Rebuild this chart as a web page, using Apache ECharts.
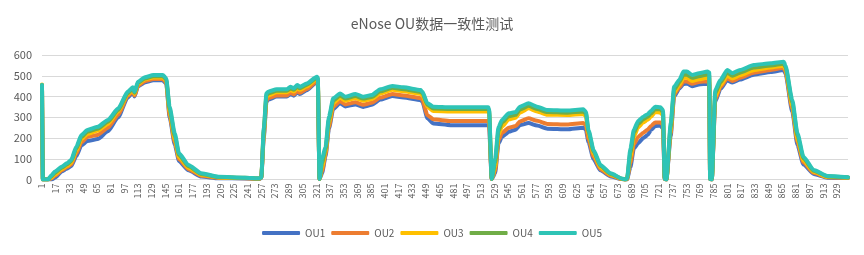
<!DOCTYPE html>
<html>
<head>
    <meta charset="UTF-8">
    <title>eNose OU数据一致性测试</title>
    <script src="https://cdn.jsdelivr.net/npm/echarts@6/dist/echarts.min.js"></script>
    <style>
        html, body { margin: 0; padding: 0; background: #fff; }
        #chart { width: 864px; height: 255px; }
    </style>
</head>
<body>
    <div id="chart"></div>

    <script>
        // 采样点总数（横轴 1..942）
        const pointCount = 942;
        const seriesNames = ['OU1', 'OU2', 'OU3', 'OU4', 'OU5'];
        const colors = ['#4472C4', '#ED7D31', '#FFC000', '#70AD47', '#2EC4B6'];

        // 读图得到的关键采样点（序号）
        const sampleAt = [
            1, 2, 8, 12, 16, 24, 30, 35, 41, 47, 54, 66, 78, 90, 101, 107, 109, 113, 121, 131, 142, 146, 150, 156, 161, 172, 187, 207, 238, 255,
            257, 260, 263, 265, 275, 287, 291, 295, 299, 302, 310, 322, 323, 325,
            328, 332, 336, 341, 349, 355, 367, 376, 386, 396, 410, 423, 443, 445, 451, 458, 478, 522, 523, 526,
            530, 534, 538, 546, 554, 559, 569, 579, 591, 614, 633, 636, 639, 645, 653, 665, 678, 682,
            684, 688, 692, 697, 703, 708, 712, 717, 723, 726, 728,
            730, 735, 739, 745, 750, 754, 760, 768, 778, 780, 781,
            783, 787, 793, 801, 807, 816, 832, 852, 867, 869, 877, 883, 890, 902, 918, 942
        ];

        const ou1 = [
            450, 0, 0, 0, 8, 38, 52, 64, 112, 165, 185, 195, 232, 300, 395, 420, 400, 448, 468, 478, 478, 462, 300, 168, 88, 44, 14, 6, 5, 3,
            8, 205, 372, 385, 400, 400, 412, 404, 420, 412, 430, 470, 465, 3,
            30, 110, 245, 340, 368, 352, 362, 350, 360, 385, 402, 395, 382, 375, 295, 270, 262, 262, 255, 2,
            30, 175, 205, 230, 240, 262, 272, 260, 245, 242, 250, 240, 180, 98, 44, 15, 2, 0,
            0, 60, 150, 175, 200, 214, 238, 258, 260, 245, 2,
            0, 210, 400, 438, 460, 462, 450, 458, 462, 458, 2,
            0, 375, 435, 478, 467, 482, 505, 518, 528, 510, 325, 165, 72, 27, 9, 7
        ];
        const ou2 = [
            452, 0, 0, 5, 18, 44, 60, 72, 125, 180, 205, 215, 250, 312, 402, 425, 405, 452, 474, 484, 484, 468, 310, 180, 98, 50, 18, 8, 6, 4,
            9, 215, 380, 392, 405, 405, 418, 410, 426, 418, 436, 474, 470, 3,
            40, 120, 255, 350, 378, 362, 372, 360, 370, 395, 412, 405, 392, 385, 310, 290, 282, 282, 275, 2,
            40, 190, 225, 250, 258, 280, 295, 283, 268, 265, 272, 262, 195, 110, 50, 19, 2, 0,
            1, 80, 170, 205, 225, 240, 258, 275, 275, 265, 2,
            0, 225, 410, 445, 472, 472, 462, 470, 474, 470, 2,
            0, 385, 445, 488, 475, 490, 515, 528, 538, 520, 340, 180, 82, 32, 11, 8
        ];
        const ou3 = [
            458, 0, 0, 10, 25, 50, 66, 80, 138, 195, 220, 235, 268, 328, 410, 432, 412, 460, 482, 492, 492, 476, 325, 195, 108, 57, 23, 10, 7, 5,
            10, 230, 395, 405, 420, 420, 432, 424, 440, 432, 448, 484, 480, 3,
            60, 135, 275, 368, 395, 380, 392, 380, 388, 415, 432, 425, 412, 405, 350, 330, 328, 328, 320, 3,
            60, 215, 255, 290, 298, 322, 343, 328, 312, 311, 316, 305, 220, 125, 58, 23, 3, 0,
            2, 110, 205, 252, 275, 288, 302, 325, 322, 310, 3,
            0, 240, 420, 455, 490, 490, 475, 483, 491, 488, 3,
            0, 400, 455, 500, 487, 502, 527, 540, 548, 530, 355, 195, 92, 37, 13, 9
        ];
        const ou4 = [
            455, 0, 0, 15, 32, 57, 72, 88, 148, 205, 230, 245, 278, 335, 415, 438, 418, 465, 487, 498, 498, 482, 338, 210, 118, 64, 27, 12, 8, 5,
            10, 240, 405, 415, 428, 428, 440, 432, 448, 440, 456, 490, 486, 3,
            80, 145, 290, 380, 405, 390, 402, 390, 398, 425, 442, 435, 422, 416, 360, 342, 340, 340, 332, 3,
            80, 235, 275, 305, 312, 338, 355, 340, 325, 322, 328, 318, 230, 135, 65, 27, 4, 0,
            3, 130, 225, 268, 290, 303, 318, 340, 338, 325, 3,
            0, 255, 432, 468, 505, 505, 490, 498, 506, 503, 3,
            0, 415, 468, 515, 500, 515, 540, 550, 558, 540, 370, 210, 102, 42, 15, 10
        ];
        const ou5 = [
            455, 0, 0, 20, 38, 62, 78, 94, 158, 214, 239, 254, 287, 343, 423, 444, 423, 471, 493, 504, 504, 488, 351, 223, 126, 70, 30, 13, 9, 6,
            10, 250, 415, 423, 435, 435, 447, 440, 455, 447, 463, 495, 490, 3,
            100, 158, 303, 391, 415, 399, 412, 399, 407, 435, 451, 444, 431, 424, 367, 351, 348, 348, 340, 3,
            100, 254, 287, 319, 325, 351, 367, 351, 335, 332, 338, 327, 239, 142, 70, 30, 5, 0,
            5, 150, 240, 282, 303, 315, 330, 351, 348, 335, 3,
            0, 271, 447, 480, 520, 520, 504, 512, 520, 516, 3,
            0, 431, 480, 528, 512, 528, 552, 560, 568, 550, 383, 223, 110, 46, 17, 11
        ];

        const yTicks = { min: 0, max: 600, interval: 100 };

        const categories = [];
        for (let i = 1; i <= pointCount; i++) categories.push(String(i));

        const allValues = [ou1, ou2, ou3, ou4, ou5];
        const font = 'Noto Sans CJK SC, sans-serif';

        const chart = echarts.init(document.getElementById('chart'));

        chart.setOption({
            animation: false,
            color: colors,
            title: {
                text: 'eNose OU数据一致性测试',
                left: 'center',
                top: 12,
                textStyle: { fontSize: 14, fontWeight: 'normal', color: '#595959', fontFamily: font }
            },
            legend: {
                bottom: 12,
                left: 'center',
                itemWidth: 38,
                itemHeight: 4,
                itemGap: 6,
                icon: 'roundRect',
                textStyle: { fontSize: 10, color: '#595959', fontFamily: font },
                data: seriesNames
            },
            grid: { left: 42, right: 16, top: 55, bottom: 75.5 },
            xAxis: {
                type: 'category',
                boundaryGap: false,
                data: categories,
                axisLine: { lineStyle: { color: '#d9d9d9' } },
                axisTick: { show: false },
                axisLabel: {
                    interval: 15,
                    rotate: 90,
                    margin: 4,
                    fontSize: 9,
                    color: '#595959',
                    fontFamily: font
                }
            },
            yAxis: {
                type: 'value',
                min: yTicks.min,
                max: yTicks.max,
                interval: yTicks.interval,
                axisLine: { show: false },
                axisTick: { show: false },
                splitLine: { lineStyle: { color: '#d9d9d9', width: 1 } },
                axisLabel: { fontSize: 11, color: '#595959', margin: 10, fontFamily: font }
            },
            series: seriesNames.map((name, k) => ({
                name: name,
                type: 'line',
                symbol: 'none',
                smooth: 0.2,
                smoothMonotone: 'x',
                lineStyle: { width: 4, join: 'round', cap: 'round' },
                data: sampleAt.map((x, j) => [x - 1, allValues[k][j]])
            }))
        });
    </script>
</body>
</html>
